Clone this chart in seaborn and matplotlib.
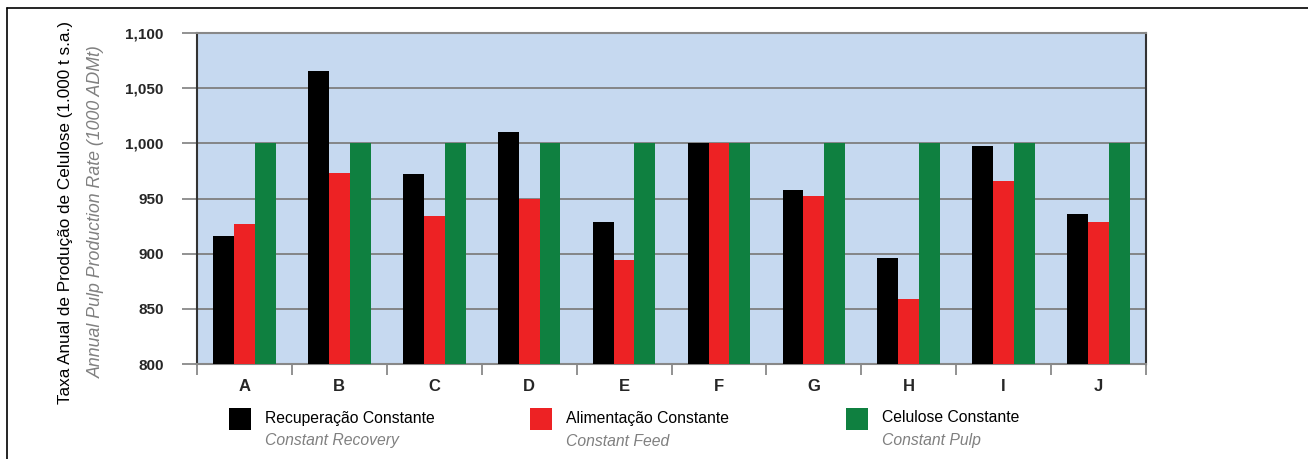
import matplotlib
matplotlib.use("Agg")
import matplotlib.pyplot as plt
from matplotlib.patches import Rectangle
from matplotlib.lines import Line2D
from matplotlib.ticker import FuncFormatter, FixedLocator
import seaborn as sns
import pandas as pd

mills = ["A", "B", "C", "D", "E", "F", "G", "H", "I", "J"]
constant_recovery = [916, 1066, 972, 1010, 929, 1000, 958, 896, 998, 936]
constant_feed = [927, 973, 934, 950, 894, 1000, 952, 859, 966, 929]
constant_pulp = [1000, 1000, 1000, 1000, 1000, 1000, 1000, 1000, 1000, 1000]

series_pt = ["Recuperação Constante", "Alimentação Constante", "Celulose Constante"]
series_en = ["Constant Recovery", "Constant Feed", "Constant Pulp"]
colors = ["#000000", "#ED2224", "#0F8040"]

ylabel_pt = "Taxa Anual de Produção de Celulose (1.000 t s.a.)"
ylabel_en = "Annual Pulp Production Rate (1000 ADMt)"

rows = []
for name, vals in zip(series_pt, [constant_recovery, constant_feed, constant_pulp]):
    for m, v in zip(mills, vals):
        rows.append({"mill": m, "series": name, "value": v})
df = pd.DataFrame(rows)

sns.set_theme(style="white")
plt.rcParams["font.family"] = ["Liberation Sans", "DejaVu Sans"]

fig = plt.figure(figsize=(13.08, 4.59), dpi=100)
ax = fig.add_axes([197 / 1308, 1 - 364 / 459, (1146 - 197) / 1308, (364 - 33) / 459])
ax.set_facecolor("#C6D9F0")

sns.barplot(data=df, x="mill", y="value", hue="series", hue_order=series_pt,
            palette=colors, width=0.66, gap=0, saturation=1, legend=False,
            edgecolor="none", linewidth=0, ax=ax, zorder=3)

ax.set_ylim(800, 1100)
ax.set_xlim(-0.5, len(mills) - 0.5)
ax.set_yticks(range(800, 1101, 50))
ax.yaxis.set_major_formatter(FuncFormatter(lambda v, p: f"{int(v):,}"))
ax.grid(axis="y", color="#7F7F7F", linewidth=1.3, zorder=1)
ax.set_axisbelow(True)

ax.set_xlabel("")
ax.set_ylabel("")
ax.tick_params(axis="y", direction="out", length=11, width=1.2, color="#7F7F7F",
               pad=13, labelsize=11, left=True)
for t in ax.get_yticklabels():
    t.set_fontweight("bold")
ax.tick_params(axis="x", which="major", length=0, pad=11, labelsize=12)
for t in ax.get_xticklabels():
    t.set_fontweight("bold")
ax.xaxis.set_minor_locator(FixedLocator([i - 0.5 for i in range(len(mills) + 1)]))
ax.tick_params(axis="x", which="minor", direction="out", length=8, width=1.2,
               color="#7F7F7F", bottom=True)

for side, col in [("left", "#333333"), ("right", "#333333"),
                  ("top", "#888888"), ("bottom", "#888888")]:
    ax.spines[side].set_visible(True)
    ax.spines[side].set_color(col)
    ax.spines[side].set_linewidth(1.5)

# two-language y-axis title
fig.text(66 / 1308, 1 - 213 / 459, ylabel_pt, rotation=90, ha="center", va="center",
         fontsize=12.3, color="#000000")
fig.text(96 / 1308, 1 - 212 / 459, ylabel_en, rotation=90, ha="center", va="center",
         fontsize=12.8, color="#808080", style="italic")

# legend
legend_x = [229, 530, 846]
for x0, col, pt, en in zip(legend_x, colors, series_pt, series_en):
    fig.add_artist(Rectangle((x0 / 1308, 1 - 430 / 459), 22 / 1308, 22 / 459,
                             transform=fig.transFigure, facecolor=col, edgecolor="none"))
    fig.text((x0 + 36) / 1308, 1 - 418 / 459, pt, ha="left", va="center",
             fontsize=11.3, color="#000000")
    fig.text((x0 + 36) / 1308, 1 - 441 / 459, en, ha="left", va="center",
             fontsize=11.3, color="#808080", style="italic")

# outer frame
fig.add_artist(Line2D([7 / 1308, 1], [1 - 8 / 459, 1 - 8 / 459], transform=fig.transFigure,
                      color="#000000", linewidth=1.2))
fig.add_artist(Line2D([7 / 1308, 7 / 1308], [0, 1 - 8 / 459], transform=fig.transFigure,
                      color="#000000", linewidth=1.2))

fig.savefig("out.png", dpi=100, facecolor="white")
